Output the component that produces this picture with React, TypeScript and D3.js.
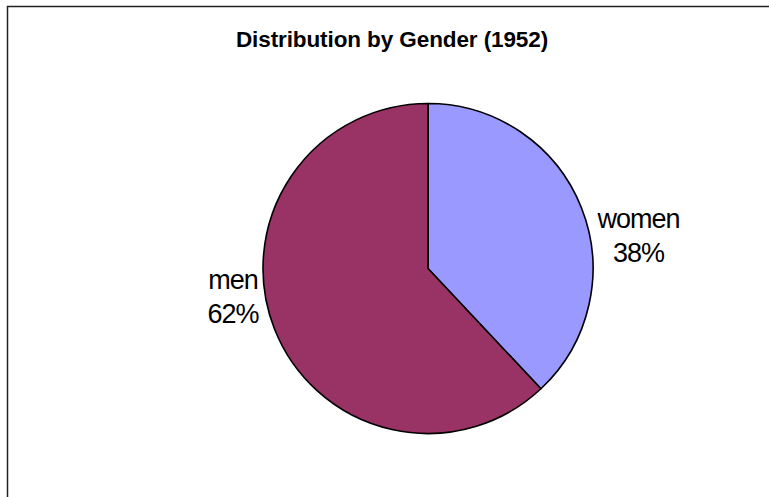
import React from "react";
import * as d3 from "d3";

const categories = ["women", "men"];
const values = [38, 62];
const colors = ["#9999FF", "#993366"];
const title = "Distribution by Gender (1952)";

const labelFont = "27px 'Liberation Sans', Arial, sans-serif";
function measure(text: string, font: string, spacing: number): number {
  const c = document.createElement("canvas").getContext("2d");
  if (!c) return text.length * 14;
  c.font = font;
  return c.measureText(text).width + spacing * (text.length - 1);
}

export default function App() {
  const W = 769, H = 497;
  const cx = 428, cy = 268.5, r = 165;
  const pie = d3.pie<number>().sort(null).value((d) => d);
  const arcs = pie(values);
  const arc = d3.arc<d3.PieArcDatum<number>>().innerRadius(0).outerRadius(r);
  const total = d3.sum(values);
  return (
    <svg width={W} height={H} style={{ position: "absolute", left: 0, top: 0, display: "block" }}>
      <rect x={0} y={0} width={W} height={H} fill="#fff" />
      <rect x={7.5} y={6.5} width={W + 20} height={H + 20} fill="none" stroke="#222" strokeWidth={1.5} />
      <text x={392} y={47} textAnchor="middle" fontFamily="Liberation Sans, Arial, sans-serif" fontWeight="bold" fontSize={22.5} letterSpacing={-0.1}>
        {title}
      </text>
      <g transform={`translate(${cx},${cy})`}>
        {arcs.map((a, i) => (
          <path key={categories[i]} d={arc(a) || ""} fill={colors[i]} stroke="#000" strokeWidth={1.6} strokeLinejoin="round" />
        ))}
        {arcs.map((a, i) => {
          const mid = (a.startAngle + a.endAngle) / 2;
          const pct = Math.round((values[i] / total) * 100) + "%";
          const w = Math.max(measure(categories[i], labelFont, -1), measure(pct, labelFont, -1));
          const side = Math.sin(mid) >= 0 ? 1 : -1;
          const x = side * (r + 4 + w / 2);
          const yc = -Math.cos(mid) * r * 0.5 - 2;
          return (
            <text key={"l" + i} textAnchor="middle" fontFamily="Liberation Sans, Arial, sans-serif" fontSize={27} letterSpacing={-1} fill="#000">
              <tspan x={x} y={yc - 8}>{categories[i]}</tspan>
              <tspan x={x} y={yc + 26}>{pct}</tspan>
            </text>
          );
        })}
      </g>
    </svg>
  );
}
